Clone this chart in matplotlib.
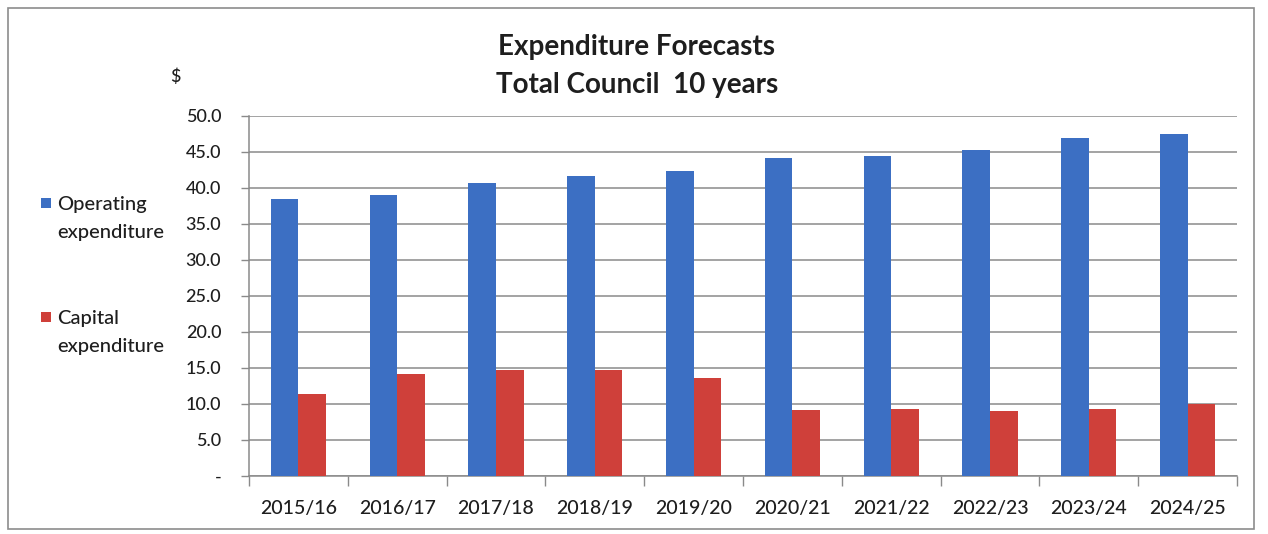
import matplotlib
matplotlib.use('Agg')
import matplotlib.pyplot as plt
from matplotlib.patches import Rectangle
import numpy as np

plt.rcParams['font.family'] = ['Lato', 'DejaVu Sans']
plt.rcParams['font.weight'] = 'medium'

years = ['2015/16', '2016/17', '2017/18', '2018/19', '2019/20',
         '2020/21', '2021/22', '2022/23', '2023/24', '2024/25']
operating = [38.5, 39.0, 40.7, 41.6, 42.4, 44.2, 44.4, 45.3, 47.0, 47.5]
capital = [11.4, 14.1, 14.7, 14.7, 13.6, 9.2, 9.3, 9.0, 9.3, 10.0]
series_names = ['Operating\nexpenditure', 'Capital\nexpenditure']
yticks = [0, 5, 10, 15, 20, 25, 30, 35, 40, 45, 50]

blue = '#3c6fc3'
red = '#cf403a'
grey = '#8a8a8a'
text_col = '#1e1e1e'

W, H = 1268, 534
fig = plt.figure(figsize=(W / 100, H / 100), dpi=100)
ax = fig.add_axes([249/W, 58/H, 988/W, 360/H])

x = np.arange(len(years))
w = 0.28
ax.bar(x - w/2, operating, width=w, color=blue, zorder=3)
ax.bar(x + w/2, capital, width=w, color=red, zorder=3)

ax.set_xlim(-0.5, len(years) - 0.5)
ax.set_ylim(0, 50)
ax.set_yticks(yticks)
ax.set_yticklabels(['-' if v == 0 else '%.1f' % v for v in yticks])
ax.yaxis.grid(True, color=grey, linewidth=1.1, zorder=0)

# category labels in the middle, ticks between categories
ax.set_xticks(x)
ax.set_xticklabels(years)
ax.set_xticks(np.arange(len(years) + 1) - 0.5, minor=True)
ax.tick_params(axis='x', which='major', length=0, pad=17, labelsize=14, labelcolor=text_col)
ax.tick_params(axis='x', which='minor', length=7, width=1, color=grey, direction='out')
ax.tick_params(axis='y', length=6, width=1, color=grey, pad=14, labelsize=13, labelcolor=text_col)

for s in ['top', 'right']:
    ax.spines[s].set_visible(False)
for s in ['left', 'bottom']:
    ax.spines[s].set_color(grey)
    ax.spines[s].set_linewidth(1.1)

fig.text(637/W, 1 - 47/H, 'Expenditure Forecasts', ha='center', va='center',
         fontsize=20, fontweight='bold', color=text_col)
fig.text(637/W, 1 - 85/H, 'Total Council  10 years', ha='center', va='center',
         fontsize=20, fontweight='bold', color=text_col)
fig.text(175/W, 1 - 77/H, '$', ha='center', va='center', fontsize=13, color=text_col)

# series key on the left: swatch next to the first line of each label
key_rows = [(blue, 203), (red, 317)]
for (col, yc), name in zip(key_rows, series_names):
    fig.patches.append(Rectangle((41/W, 1 - (yc + 5)/H), 10/W, 10/H,
                                 transform=fig.transFigure, facecolor=col, edgecolor='none'))
    fig.text(57/W, 1 - (yc - 7)/H, name, ha='left', va='top', fontsize=14.5,
             linespacing=1.78, color=text_col)

# outer chart border
fig.patches.append(Rectangle((8/W, 5/H), 1246/W, 521/H, transform=fig.transFigure,
                             fill=False, edgecolor='#8c8c8c', linewidth=1.2))

fig.savefig('out.png', dpi=100)
